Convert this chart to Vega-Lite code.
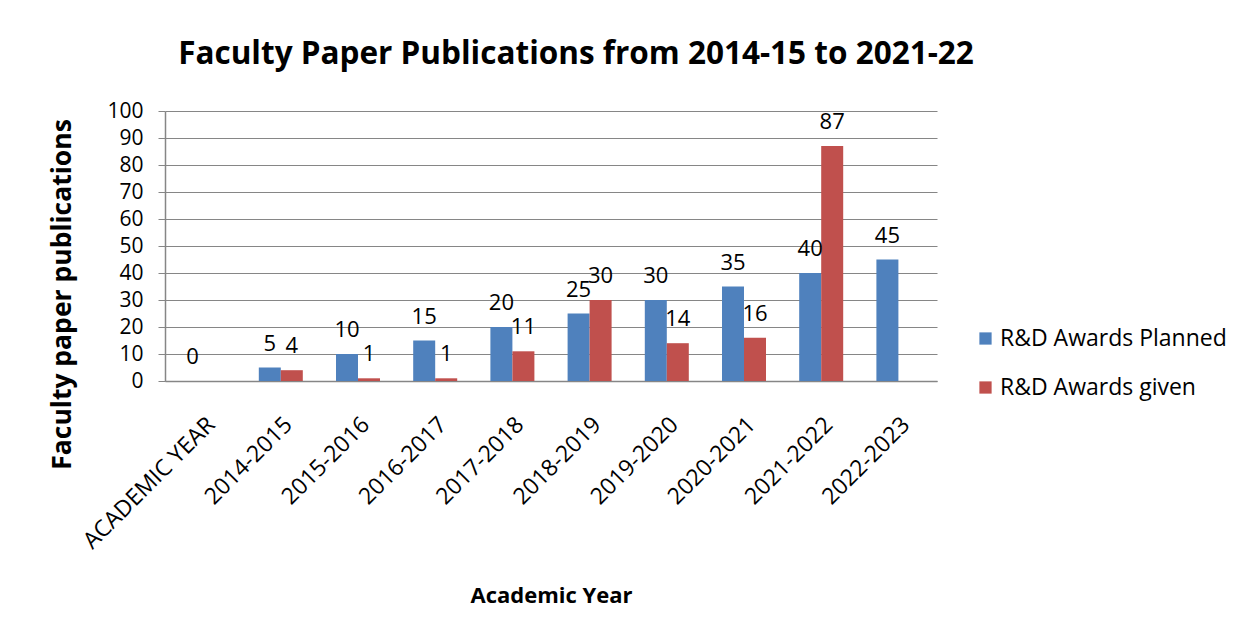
{
  "$schema": "https://vega.github.io/schema/vega-lite/v6.json",
  "width": 772,
  "height": 270,
  "autosize": "none",
  "padding": {"left": 165, "top": 111, "right": 309, "bottom": 254},
  "background": "white",
  "config": {
    "font": "Open Sans",
    "view": {"stroke": null}
  },
  "title": {
    "text": "Faculty Paper Publications from 2014-15 to 2021-22",
    "fontSize": 31.5,
    "fontWeight": "bold",
    "font": "Open Sans",
    "color": "#000000",
    "anchor": "middle",
    "dx": 25,
    "baseline": "alphabetic",
    "offset": 5
  },
  "data": {
    "values": [
      {"year": "ACADEMIC YEAR", "series": "R&D Awards Planned", "value": 0},
      {"year": "2014-2015", "series": "R&D Awards Planned", "value": 5},
      {"year": "2014-2015", "series": "R&D Awards given", "value": 4},
      {"year": "2015-2016", "series": "R&D Awards Planned", "value": 10},
      {"year": "2015-2016", "series": "R&D Awards given", "value": 1},
      {"year": "2016-2017", "series": "R&D Awards Planned", "value": 15},
      {"year": "2016-2017", "series": "R&D Awards given", "value": 1},
      {"year": "2017-2018", "series": "R&D Awards Planned", "value": 20},
      {"year": "2017-2018", "series": "R&D Awards given", "value": 11},
      {"year": "2018-2019", "series": "R&D Awards Planned", "value": 25},
      {"year": "2018-2019", "series": "R&D Awards given", "value": 30},
      {"year": "2019-2020", "series": "R&D Awards Planned", "value": 30},
      {"year": "2019-2020", "series": "R&D Awards given", "value": 14},
      {"year": "2020-2021", "series": "R&D Awards Planned", "value": 35},
      {"year": "2020-2021", "series": "R&D Awards given", "value": 16},
      {"year": "2021-2022", "series": "R&D Awards Planned", "value": 40},
      {"year": "2021-2022", "series": "R&D Awards given", "value": 87},
      {"year": "2022-2023", "series": "R&D Awards Planned", "value": 45}
    ]
  },
  "encoding": {
    "x": {
      "field": "year",
      "type": "nominal",
      "sort": null,
      "scale": {"paddingInner": 0.43, "paddingOuter": 0.215},
      "axis": {
        "title": "Academic Year",
        "titleFontSize": 22,
        "titleFontWeight": "bold",
        "titleColor": "#000000",
        "titleY": 214,
        "titleBaseline": "middle",
        "labelAngle": -45,
        "labelFontSize": 23,
        "labelColor": "#000000",
        "labelPadding": 32,
        "ticks": false,
        "domainColor": "#868686",
        "domainWidth": 1.5,
        "grid": false
      }
    },
    "xOffset": {
      "field": "series",
      "type": "nominal",
      "sort": ["R&D Awards Planned", "R&D Awards given"],
      "scale": {"paddingInner": 0}
    },
    "y": {
      "field": "value",
      "type": "quantitative",
      "scale": {"domain": [0, 100], "nice": false},
      "axis": {
        "title": "Faculty paper publications",
        "titleFontSize": 26.5,
        "titleFontWeight": "bold",
        "titleColor": "#000000",
        "titleX": -103,
        "titleY": 183,
        "titleBaseline": "middle",
        "titleAngle": -90,
        "values": [0, 10, 20, 30, 40, 50, 60, 70, 80, 90, 100],
        "labelFontSize": 21,
        "labelColor": "#000000",
        "labelPadding": 15,
        "tickSize": 7,
        "tickColor": "#868686",
        "domainColor": "#868686",
        "domainWidth": 1.5,
        "gridColor": "#868686",
        "gridWidth": 1.2
      }
    }
  },
  "layer": [
    {
      "mark": {"type": "bar"},
      "encoding": {
        "color": {
          "field": "series",
          "type": "nominal",
          "sort": ["R&D Awards Planned", "R&D Awards given"],
          "scale": {"domain": ["R&D Awards Planned", "R&D Awards given"], "range": ["#4F81BD", "#C0504D"]},
          "legend": {
            "title": null,
            "orient": "none",
            "legendX": 809,
            "legendY": 216,
            "symbolType": "square",
            "symbolSize": 150,
            "symbolStrokeWidth": 0,
            "labelFontSize": 23,
            "labelColor": "#000000",
            "labelLimit": 300,
            "rowPadding": 25,
            "labelOffset": 3
          }
        }
      }
    },
    {
      "mark": {"type": "text", "baseline": "alphabetic", "dy": -17, "fontSize": 22, "color": "#000000"},
      "encoding": {
        "text": {"field": "value", "type": "quantitative"}
      }
    }
  ]
}
